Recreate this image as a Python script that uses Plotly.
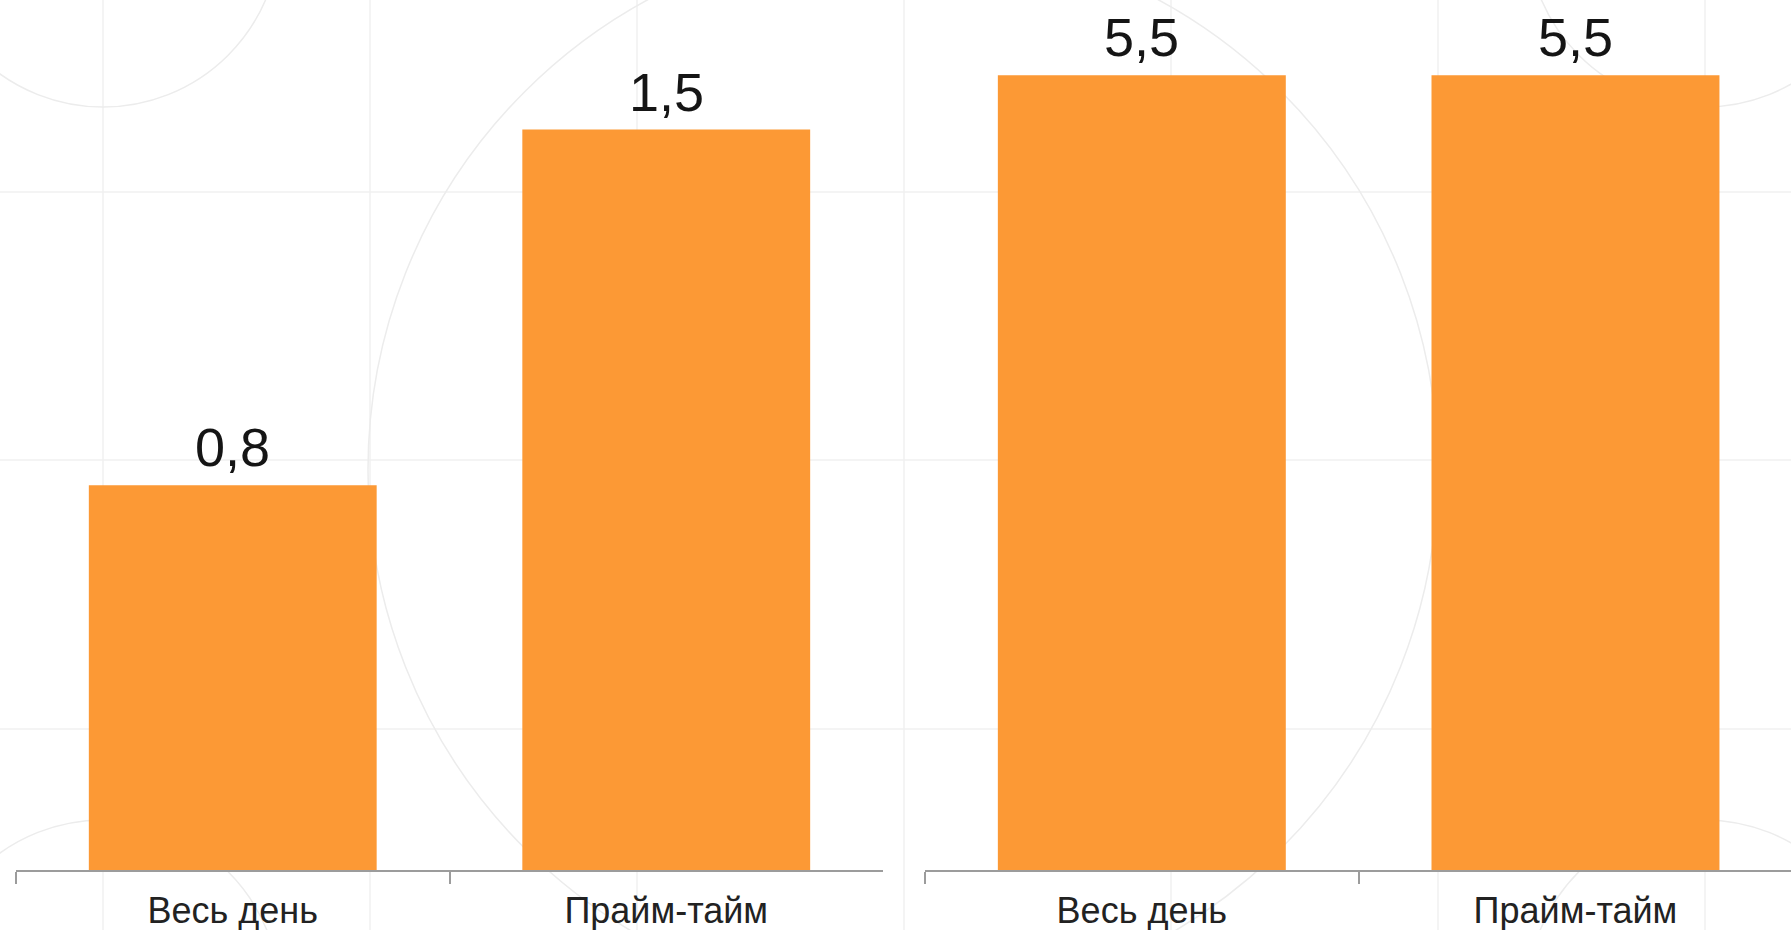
import plotly.graph_objects as go

# ---- data ----
categories = ["Весь день", "Прайм-тайм"]
left_values = [0.79, 1.52]
right_values = [5.5, 5.5]

BAR_COLOR = "#FC9935"
FONT = "Liberation Sans, Arial, sans-serif"


def fmt(v):
    return f"{v:.1f}".replace(".", ",")


fig = go.Figure()
fig.add_trace(go.Bar(x=categories, y=left_values, marker=dict(color=BAR_COLOR, line=dict(width=0)),
                     xaxis="x", yaxis="y", showlegend=False, hoverinfo="skip"))
fig.add_trace(go.Bar(x=categories, y=right_values, marker=dict(color=BAR_COLOR, line=dict(width=0)),
                     xaxis="x2", yaxis="y2", showlegend=False, hoverinfo="skip"))

annotations = []
for xa, ya, vals in (("x", "y", left_values), ("x2", "y2", right_values)):
    for c, v in zip(categories, vals):
        annotations.append(dict(x=c, y=v, xref=xa, yref=ya, text=fmt(v), showarrow=False,
                                yanchor="bottom", yshift=6,
                                font=dict(family=FONT, size=54, color="#151515")))

# faint background decoration (grid + circles)
shapes = []
W, H = 1791, 930
grid_col = "#f1f1f1"
for gx in [103 + 267 * k for k in range(7)]:
    shapes.append(dict(type="line", xref="paper", yref="paper", layer="below",
                       x0=gx / W, x1=gx / W, y0=-60 / 870, y1=1,
                       line=dict(color=grid_col, width=1.5)))
for gy in [192, 460, 729]:
    yy = (870 - gy) / 870
    shapes.append(dict(type="line", xref="paper", yref="paper", layer="below",
                       x0=0, x1=1, y0=yy, y1=yy, line=dict(color=grid_col, width=1.5)))


def circ(cx, cy, r):
    return dict(type="circle", xref="paper", yref="paper", layer="below",
                x0=(cx - r) / W, x1=(cx + r) / W,
                y0=(870 - (cy + r)) / 870, y1=(870 - (cy - r)) / 870,
                line=dict(color="#ececec", width=1.5))


shapes += [circ(103, -70, 177), circ(1704, -70, 177), circ(103, 997, 177),
           circ(1704, 997, 177), circ(903, 470, 535)]

xcommon = dict(type="category", showline=True, linecolor="#9c9c9c", linewidth=2,
               ticks="outside", tickson="boundaries", ticklen=12, tickcolor="#9c9c9c", tickwidth=1.5,
               showgrid=False, zeroline=False, ticklabelstandoff=8,
               tickfont=dict(family=FONT, size=36, color="#222222"))
ycommon = dict(showticklabels=False, showgrid=False, zeroline=False, showline=False, ticks="")

fig.update_layout(
    width=1791, height=930,
    margin=dict(l=0, r=0, t=0, b=60),
    paper_bgcolor="white", plot_bgcolor="rgba(0,0,0,0)",
    bargap=0.336,
    xaxis=dict(domain=[16 / W, 883 / W], anchor="y", range=[-0.5, 1.5], **xcommon),
    xaxis2=dict(domain=[925 / W, 1.0], anchor="y2", range=[-0.5, 1.497], **xcommon),
    yaxis=dict(domain=[0, 1], anchor="x", range=[0, 1.786], **ycommon),
    yaxis2=dict(domain=[0, 1], anchor="x2", range=[0, 6.02], **ycommon),
    annotations=annotations,
    shapes=shapes,
)

fig.write_html("out.html", config={"displayModeBar": False},
               post_script="document.body.style.margin='0';document.body.style.overflow='hidden';")
